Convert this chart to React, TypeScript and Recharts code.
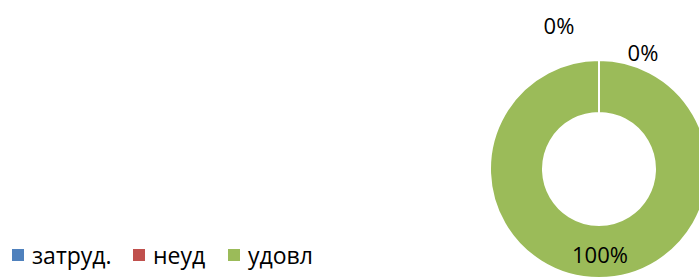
import React from "react";
import { PieChart, Pie, Cell, Legend } from "recharts";

const categories = ["затруд.", "неуд", "удовл"];
const values = [0, 0, 100];
const colors = ["#4F81BD", "#C0504D", "#9BBB59"];
// label nudges (dx, dy) from the default position, per slice
const labelShift = [
    [-40, -25],
    [44, 2],
    [1, 2],
];
const legendItemWidth = [121, 95, 100];

const data = categories.map((name, i) => ({ name, value: values[i] }));
const total = values.reduce((a, b) => a + b, 0);
const RAD = Math.PI / 180;
const FONT = "Open Sans, sans-serif";

const renderLabel = (props: any) => {
    const { cx, cy, midAngle, innerRadius, outerRadius, index, value } = props;
    const pct = total ? Math.round((value / total) * 100) : 0;
    let r = (innerRadius + outerRadius) / 2;
    if (value === 0) r = outerRadius + 10;
    const x = cx + r * Math.cos(-midAngle * RAD) + labelShift[index][0];
    const y = cy + r * Math.sin(-midAngle * RAD) + labelShift[index][1];
    return (
        <text
            x={x}
            y={y}
            fill="#000"
            fontSize={22}
            fontFamily={FONT}
            textAnchor="middle"
            dominantBaseline="central"
        >
            {pct + "%"}
        </text>
    );
};

const renderLegend = () => (
    <div style={{ display: "flex", fontFamily: FONT, fontSize: 23, lineHeight: "24px", color: "#000" }}>
        {categories.map((c, i) => (
            <div key={c} style={{ display: "flex", alignItems: "center", width: legendItemWidth[i] }}>
                <span style={{ width: 12, height: 12, background: colors[i], display: "inline-block", marginRight: 8 }} />
                <span>{c}</span>
            </div>
        ))}
    </div>
);

export default function App() {
    return (
        <div style={{ position: "absolute", left: 0, top: 0, width: 699, height: 279, overflow: "hidden", background: "#fff" }}>
            <PieChart width={699} height={279} margin={{ top: 0, right: 0, bottom: 0, left: 0 }}>
                <Pie
                    data={data}
                    dataKey="value"
                    nameKey="name"
                    cx={599}
                    cy={169}
                    innerRadius={56}
                    outerRadius={109}
                    startAngle={90}
                    endAngle={-270}
                    stroke="#fff"
                    strokeWidth={2}
                    label={renderLabel}
                    labelLine={false}
                    isAnimationActive={false}
                >
                    {data.map((d, i) => (
                        <Cell key={d.name} fill={colors[i]} />
                    ))}
                </Pie>
                <Legend
                    content={renderLegend}
                    wrapperStyle={{ left: 12, top: 243, width: 400 }}
                />
            </PieChart>
        </div>
    );
}
